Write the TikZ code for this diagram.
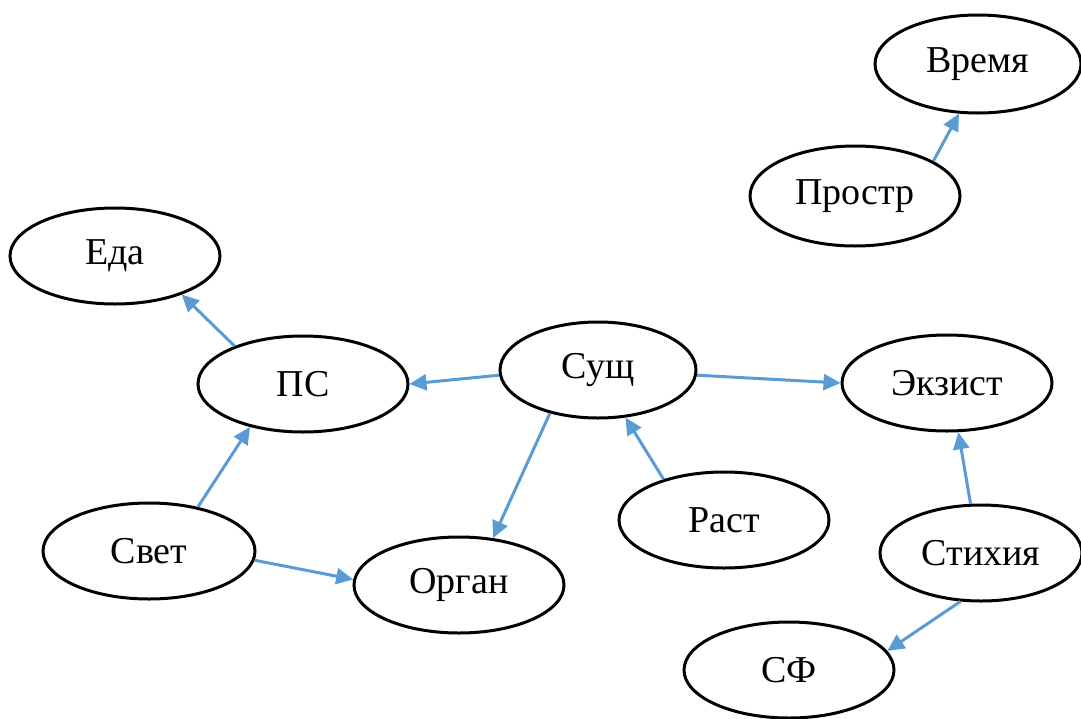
\documentclass[tikz,border=0pt]{standalone}
\usepackage{fontspec}
\setmainfont{Liberation Serif}
\usetikzlibrary{shapes.geometric,arrows.meta}
\definecolor{arrowblue}{HTML}{5B9BD5}
\tikzset{
  oval/.style={ellipse, draw=black, line width=3pt, fill=white, inner sep=0pt,
    minimum width=210pt, minimum height=96pt, font=\fontsize{38}{42}\selectfont},
  link/.style={draw=arrowblue, line width=3pt, -{Triangle[length=17pt,width=16pt]}}
}
\begin{document}
\begin{tikzpicture}[x=1pt,y=-1pt]
\useasboundingbox (0,0) rectangle (1081,718);
\node[oval, minimum width=206pt, minimum height=98pt] (vremya) at (978,64) {Время};
\node[oval, minimum height=100pt] (prostr) at (855,196) {Простр};
\node[oval, minimum height=96pt] (eda) at (115,256) {Еда};
\node[oval] (ps) at (303,384) {ПС};
\node[oval, minimum width=196pt] (sushch) at (598,370) {Сущ};
\node[oval] (ekzist) at (947,383) {Экзист};
\node[oval, minimum width=212pt] (svet) at (149,551) {Свет};
\node[oval] (organ) at (459,585) {Орган};
\node[oval] (rast) at (724,520) {Раст};
\node[oval, minimum width=202pt] (stikh) at (981,553) {Стихия};
\node[oval] (sf) at (789,670) {СФ};

\draw[link] (prostr.24) -- (vremya.249);
\draw[link] (ps.151) -- (eda.330);
\draw[link] (sushch.183) -- (ps.0);
\draw[link] (sushch.357) -- (ekzist.180);
\draw[link] (sushch.222) -- (organ.54);
\draw[link] (rast.146) -- (sushch.300);
\draw[link] (svet.42) -- (ps.219);
\draw[link] (svet.355) -- (organ.177);
\draw[link] (stikh.102) -- (ekzist.283);
\draw[link] (stikh.247) -- (sf.11);
\end{tikzpicture}
\end{document}
